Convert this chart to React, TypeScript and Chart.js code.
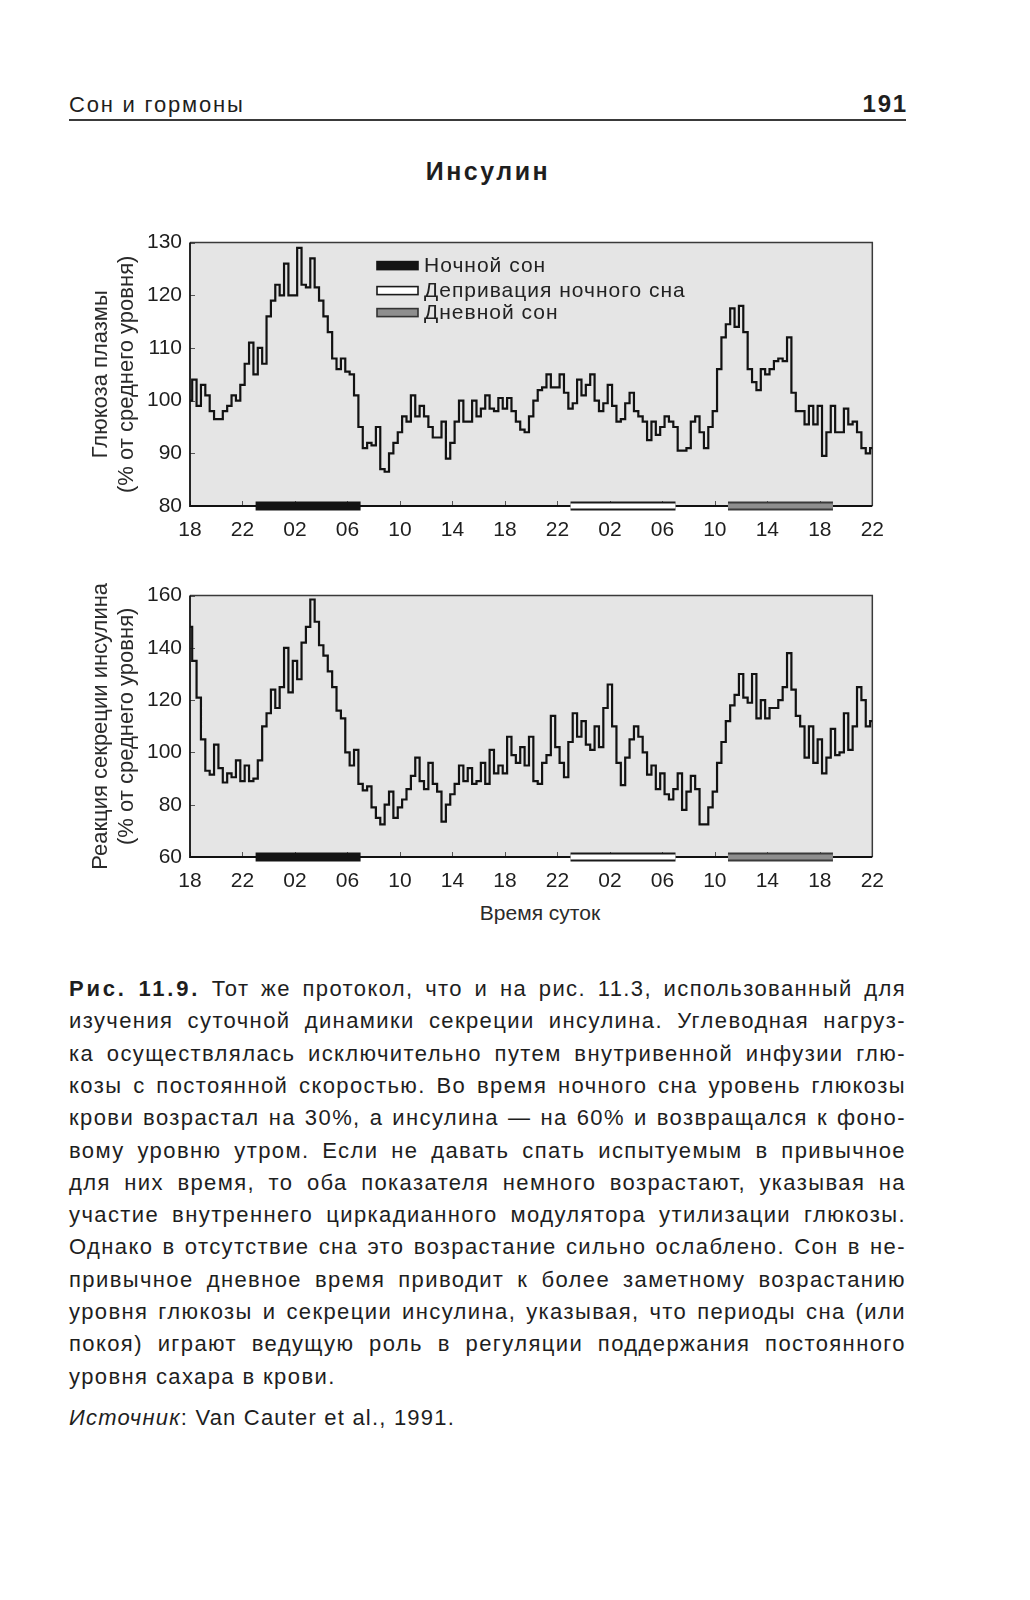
import React, { useEffect, useRef } from 'react';
import { Chart, registerables } from 'chart.js';

Chart.register(...registerables);

const FONT = '"Liberation Sans", Arial, Helvetica, sans-serif';
const INK = '#1e1e1e';

// 20-minute samples, hour 0 = 18:00 of day 1, hour 52 = 22:00 of day 3
const SAMPLES_PER_HOUR = 3;

const GLUCOSE = [
  100, 104, 99,
  103, 101, 98,
  96.5, 96.5, 98,
  99, 101, 100,
  103, 107, 111,
  105, 110, 107,
  116, 119, 122,
  120, 126, 120,
  120, 129, 122,
  121.5, 127, 121.5,
  119, 116, 113,
  108, 106, 108,
  105.5, 105, 101,
  95, 91, 92,
  91.5, 95, 87,
  86.5, 90, 92,
  94, 97, 96,
  101, 97, 99,
  97, 95, 93,
  93, 96, 89,
  92, 96, 100,
  96, 96, 100,
  97, 98.5, 101,
  98.5, 98, 100.5,
  98.5, 100.5, 98,
  96, 94.5, 94,
  97, 100, 102,
  102.5, 105, 102.5,
  102.5, 105, 101.5,
  98.5, 99.5, 104,
  101, 103, 105,
  100, 98, 99.5,
  103, 99, 96,
  96.5, 99.5, 101.5,
  98, 97, 96,
  92.5, 96, 93.5,
  95, 97, 96,
  95, 90.5, 90.5,
  91, 96, 97,
  94, 91, 95,
  98, 106, 112,
  114.5, 117.5, 114,
  118, 113, 106,
  103.5, 102, 106,
  105, 106, 107.5,
  108, 107.5, 112,
  101.5, 98, 98,
  95.5, 99, 95.5,
  99, 89.5, 94,
  99, 94, 94,
  98.5, 95.5, 96,
  94, 91, 90,
  91,
];

const INSULIN = [
  148, 135, 121,
  105, 93, 91.5,
  103, 94, 88.5,
  92, 90.5, 97,
  89, 95, 89,
  90, 97, 110,
  115, 124, 117,
  125, 140, 123,
  135, 128, 142,
  148, 158.5, 150,
  141, 137, 131,
  125, 116, 113,
  100, 95, 101,
  88, 85.5, 87,
  79, 75, 72.5,
  80, 85, 75,
  79, 82, 86,
  91, 98, 89,
  86, 96, 88,
  85, 73.5, 80,
  84, 88, 95,
  89, 94, 88,
  89, 96, 88,
  101, 92, 95,
  92, 106, 99,
  96, 102, 95,
  106, 89, 88,
  96, 99, 114,
  102, 96, 90.5,
  104, 115, 106,
  112, 103, 101,
  110, 102, 117,
  126, 110, 96,
  87.5, 98, 105,
  110, 106, 100,
  91.5, 95, 86,
  92, 84, 82,
  86, 92, 78,
  85, 91, 86,
  72.5, 72.5, 79,
  85, 96, 104,
  112, 118, 122,
  130, 121, 119,
  130, 113, 120,
  113, 117, 117,
  120, 125, 138,
  124, 114, 110,
  98, 110, 96,
  105, 92, 98,
  109, 99, 100,
  115, 101, 110,
  125, 120, 110,
  112,
];

const TICK_HOURS = [0, 4, 8, 12, 16, 20, 24, 28, 32, 36, 40, 44, 48, 52];
const TICK_LABELS = ['18', '22', '02', '06', '10', '14', '18', '22', '02', '06', '10', '14', '18', '22'];
const GLUCOSE_TICKS = [80, 90, 100, 110, 120, 130];
const INSULIN_TICKS = [60, 80, 100, 120, 140, 160];

const NIGHT_SLEEP = [5, 13];
const SLEEP_DEPRIVATION = [29, 37];
const DAY_SLEEP = [41, 49];
const LEGEND_LABELS = ['Ночной сон', 'Депривация ночного сна', 'Дневной сон'];

const GLUCOSE_TITLE = ['Глюкоза плазмы', '(% от среднего уровня)'];
const INSULIN_TITLE = ['Реакция секреции инсулина', '(% от среднего уровня)'];
const X_TITLE = 'Время суток';

const CAPTION_PREFIX = ['Рис.', '11.9.'];
const CAPTION_LINES = [
  'Тот же протокол, что и на рис. 11.3, использованный для',
  'изучения суточной динамики секреции инсулина. Углеводная нагруз-',
  'ка осуществлялась исключительно путем внутривенной инфузии глю-',
  'козы с постоянной скоростью. Во время ночного сна уровень глюкозы',
  'крови возрастал на 30%, а инсулина — на 60% и возвращался к фоно-',
  'вому уровню утром. Если не давать спать испытуемым в привычное',
  'для них время, то оба показателя немного возрастают, указывая на',
  'участие внутреннего циркадианного модулятора утилизации глюкозы.',
  'Однако в отсутствие сна это возрастание сильно ослаблено. Сон в не-',
  'привычное дневное время приводит к более заметному возрастанию',
  'уровня глюкозы и секреции инсулина, указывая, что периоды сна (или',
  'покоя) играют ведущую роль в регуляции поддержания постоянного',
  'уровня сахара в крови.',
];

const framePlugin = {
  id: 'frame',
  beforeDraw(chart: any) {
    const { ctx, chartArea: a } = chart;
    ctx.save();
    ctx.fillStyle = '#e5e5e5';
    ctx.fillRect(a.left, a.top, a.right - a.left, a.bottom - a.top);
    ctx.restore();
  },
  beforeDatasetsDraw(chart: any) {
    const { ctx, chartArea: a, scales } = chart;
    ctx.save();
    ctx.strokeStyle = '#555';
    ctx.lineWidth = 1;
    const xs = scales.x;
    xs.ticks.forEach((t: any) => {
      const px = Math.round(xs.getPixelForValue(t.value)) + 0.5;
      ctx.beginPath();
      ctx.moveTo(px, a.bottom);
      ctx.lineTo(px, a.bottom - 5);
      ctx.stroke();
    });
    const ys = scales.y;
    ys.ticks.forEach((t: any) => {
      const py = Math.round(ys.getPixelForValue(t.value)) + 0.5;
      ctx.beginPath();
      ctx.moveTo(a.left, py);
      ctx.lineTo(a.left + 5, py);
      ctx.stroke();
    });
    ctx.lineWidth = 1.5;
    ctx.strokeStyle = '#3a3a3a';
    ctx.beginPath();
    ctx.moveTo(a.left, a.top);
    ctx.lineTo(a.right, a.top);
    ctx.lineTo(a.right, a.bottom);
    ctx.stroke();
    ctx.strokeStyle = '#111';
    ctx.lineWidth = 1.8;
    ctx.beginPath();
    ctx.moveTo(a.left, a.top);
    ctx.lineTo(a.left, a.bottom);
    ctx.lineTo(a.right, a.bottom);
    ctx.stroke();
    ctx.restore();
  },
};

const legendPlugin = {
  id: 'sleepLegend',
  afterDatasetsDraw(chart: any, _args: any, opts: any) {
    if (!opts || !opts.show) return;
    const { ctx, chartArea: a } = chart;
    const x0 = a.left + 187;
    const w = 41;
    const h = 8;
    const rows = [23, 48, 70];
    const fills = ['#141414', '#ffffff', '#8e8e8e'];
    const strokes = ['#141414', '#1a1a1a', '#333333'];
    ctx.save();
    rows.forEach((dy, i) => {
      const y = a.top + dy;
      ctx.fillStyle = fills[i];
      ctx.fillRect(x0, y - h / 2, w, h);
      ctx.strokeStyle = strokes[i];
      ctx.lineWidth = 1.6;
      ctx.strokeRect(x0, y - h / 2, w, h);
      ctx.fillStyle = '#222';
      ctx.font = `21px ${FONT}`;
      try { (ctx as any).letterSpacing = '1px'; } catch (e) { /* ignore */ }
      ctx.textBaseline = 'middle';
      ctx.textAlign = 'left';
      ctx.fillText(LEGEND_LABELS[i], x0 + w + 6, y + 1);
    });
    ctx.restore();
  },
};

type BuildOpts = {
  values: number[];
  yTicks: number[];
  yTitle: string[];
  legend: boolean;
};

function buildChart(canvas: HTMLCanvasElement, o: BuildOpts) {
  const yMin = o.yTicks[0];
  const yMax = o.yTicks[o.yTicks.length - 1];
  const series = o.values.map((v, i) => ({ x: i / SAMPLES_PER_HOUR, y: v }));
  const bar = (range: number[], color: string, width: number, order: number) => ({
    data: [{ x: range[0], y: yMin }, { x: range[1], y: yMin }],
    borderColor: color,
    backgroundColor: color,
    borderWidth: width,
    pointRadius: 0,
    clip: false,
    order,
    borderCapStyle: 'butt',
  });
  const datasets: any[] = [
    {
      data: series,
      borderColor: '#121212',
      borderWidth: 2.2,
      pointRadius: 0,
      stepped: 'middle',
      order: 10,
    },
    bar(NIGHT_SLEEP, '#141414', 9, 5),
    bar(SLEEP_DEPRIVATION, '#1a1a1a', 9, 5),
    bar(SLEEP_DEPRIVATION, '#ffffff', 5, 4),
    bar(DAY_SLEEP, '#3a3a3a', 9, 5),
    bar(DAY_SLEEP, '#8e8e8e', 5, 4),
  ];

  return new Chart(canvas, {
    type: 'line',
    data: { datasets },
    plugins: [framePlugin, legendPlugin],
    options: {
      animation: false,
      responsive: false,
      maintainAspectRatio: false,
      devicePixelRatio: 1,
      layout: { padding: { top: 20, right: 12, left: 0, bottom: 0 } },
      plugins: {
        legend: { display: false },
        tooltip: { enabled: false },
        sleepLegend: { show: o.legend },
      } as any,
      scales: {
        x: {
          type: 'linear',
          min: 0,
          max: 52,
          afterBuildTicks: (s: any) => {
            s.ticks = TICK_HOURS.map((v) => ({ value: v }));
          },
          afterFit: (s: any) => {
            s.height = 34;
          },
          grid: { display: false, drawTicks: false },
          border: { display: false },
          ticks: {
            autoSkip: false,
            maxRotation: 0,
            padding: 12,
            color: INK,
            font: { family: FONT, size: 21 },
            callback: (_v: any, i: number) => TICK_LABELS[i],
          },
        },
        y: {
          type: 'linear',
          min: yMin,
          max: yMax,
          afterBuildTicks: (s: any) => {
            s.ticks = o.yTicks.map((v) => ({ value: v }));
          },
          afterFit: (s: any) => {
            s.width = 110;
          },
          grid: { display: false, drawTicks: false },
          border: { display: false },
          ticks: {
            padding: 8,
            color: INK,
            font: { family: FONT, size: 21 },
          },
          title: {
            display: true,
            text: o.yTitle,
            color: '#2a2a2a',
            font: { family: FONT, size: 22, lineHeight: '26px' as any },
            padding: { top: 8, bottom: 0 },
          },
        },
      },
    } as any,
  });
}

function ChartCanvas(props: { left: number; top: number; width: number; height: number; opts: BuildOpts }) {
  const ref = useRef<HTMLCanvasElement>(null);
  const { left, top, width, height, opts } = props;
  useEffect(() => {
    if (!ref.current) return;
    const chart = buildChart(ref.current, opts);
    return () => chart.destroy();
  }, []);
  return (
    <canvas
      ref={ref}
      width={width}
      height={height}
      style={{ position: 'absolute', left, top, width, height }}
    />
  );
}

const textBase: React.CSSProperties = {
  position: 'absolute',
  fontFamily: FONT,
  color: INK,
  whiteSpace: 'nowrap',
};

function JustifiedLine(props: { words: React.ReactNode[]; top: number }) {
  return (
    <div
      style={{
        position: 'absolute',
        left: 69,
        top: props.top,
        width: 837,
        height: 32.3,
        display: 'flex',
        justifyContent: 'space-between',
        fontFamily: FONT,
        fontSize: 22,
        letterSpacing: '1.4px',
        lineHeight: '32.3px',
        color: INK,
        whiteSpace: 'nowrap',
      }}
    >
      {props.words}
    </div>
  );
}

export default function App() {
  const captionTop = 973;
  const step = 32.3;
  const lastIdx = CAPTION_LINES.length - 1;
  return (
    <div
      style={{
        position: 'absolute',
        left: 0,
        top: 0,
        width: 1030,
        height: 1600,
        background: '#ffffff',
        overflow: 'hidden',
      }}
    >
      {/* running header */}
      <div style={{ ...textBase, left: 69, top: 92, fontSize: 22, lineHeight: '26px', letterSpacing: '1.8px' }}>
        Сон и гормоны
      </div>
      <div
        style={{
          ...textBase,
          left: 806,
          width: 102,
          top: 90,
          fontSize: 24,
          lineHeight: '28px',
          fontWeight: 'bold',
          textAlign: 'right',
          letterSpacing: '1.8px',
        }}
      >
        191
      </div>
      <div style={{ position: 'absolute', left: 69, top: 119, width: 837, height: 2, background: '#3a3a3a' }} />

      {/* figure title */}
      <div
        style={{
          ...textBase,
          left: 388,
          width: 200,
          top: 156,
          fontSize: 25,
          lineHeight: '30px',
          fontWeight: 'bold',
          textAlign: 'center',
          letterSpacing: '2.5px',
        }}
      >
        Инсулин
      </div>

      <ChartCanvas
        left={80}
        top={222}
        width={816}
        height={318}
        opts={{ values: GLUCOSE, yTicks: GLUCOSE_TICKS, yTitle: GLUCOSE_TITLE, legend: true }}
      />
      <ChartCanvas
        left={80}
        top={575}
        width={816}
        height={316}
        opts={{ values: INSULIN, yTicks: INSULIN_TICKS, yTitle: INSULIN_TITLE, legend: false }}
      />
      <div
        style={{
          ...textBase,
          left: 440,
          width: 200,
          top: 900,
          fontSize: 21,
          lineHeight: '26px',
          textAlign: 'center',
          color: '#2a2a2a',
        }}
      >
        {X_TITLE}
      </div>

      {/* caption */}
      {CAPTION_LINES.map((line, i) => {
        const top = captionTop + i * step;
        if (i === lastIdx) {
          return (
            <div
              key={i}
              style={{ ...textBase, left: 69, top, fontSize: 22, lineHeight: '32.3px', letterSpacing: '1.4px' }}
            >
              {line}
            </div>
          );
        }
        const words: React.ReactNode[] = [];
        if (i === 0) {
          CAPTION_PREFIX.forEach((w, k) =>
            words.push(
              <span key={'b' + k} style={{ fontWeight: 'bold', letterSpacing: '2.8px' }}>
                {w}
              </span>
            )
          );
        }
        line.split(' ').forEach((w, k) => words.push(<span key={k}>{w}</span>));
        return <JustifiedLine key={i} top={top} words={words} />;
      })}

      <div style={{ ...textBase, left: 69, top: 1402, fontSize: 22, lineHeight: '32.3px', letterSpacing: '1.2px' }}>
        <i>Источник</i>: Van Cauter et al., 1991.
      </div>
    </div>
  );
}
